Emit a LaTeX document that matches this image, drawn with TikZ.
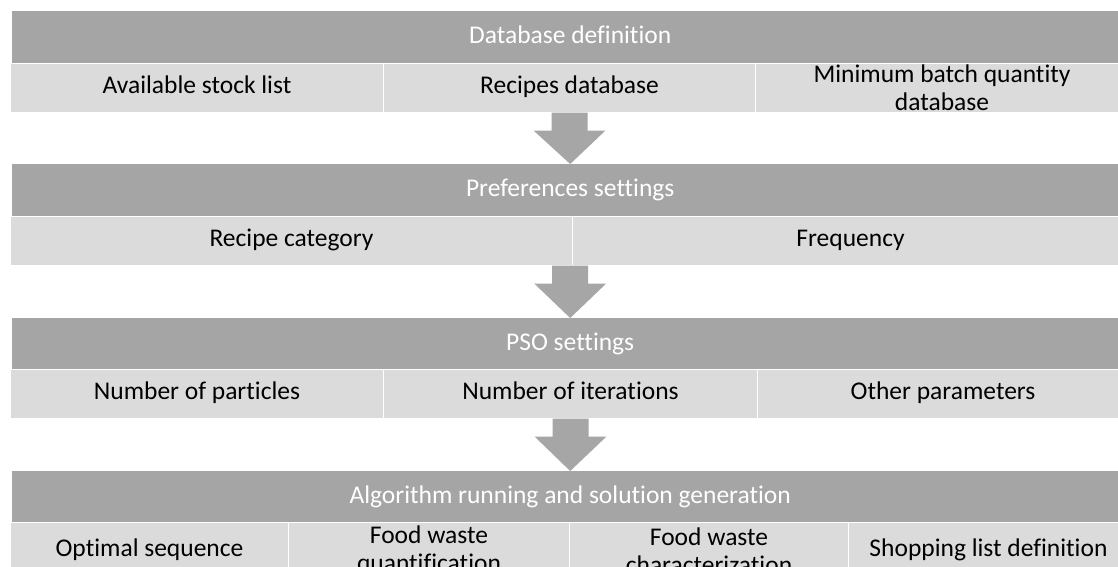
\documentclass[tikz,border=0pt]{standalone}
\usepackage{fontspec}
\setmainfont{Carlito}[Ligatures=NoCommon]
\usetikzlibrary{calc}
\definecolor{bargray}{HTML}{A5A5A5}
\definecolor{cellgray}{HTML}{DBDBDB}
\definecolor{arrowgray}{HTML}{A6A6A6}
\tikzset{
  bar/.style={fill=bargray, text=white, minimum width=1116pt, minimum height=52pt, inner sep=0pt, anchor=north west, text height=18pt, text depth=6pt},
  cell/.style={fill=cellgray, draw=white, line width=1pt, minimum height=48.5pt, inner sep=0pt, align=center, anchor=north west},
  oneline/.style={text height=18pt, text depth=6pt},
}
\newcommand{\flowarrow}[2]{%
  \fill[arrowgray] ($(#1)+(-18,0)$) -- ($(#1)+(18,0)$) -- ($(#1)+(18,18)$) -- ($(#1)+(36,18)$)
    -- (#2) -- ($(#1)+(-36,18)$) -- ($(#1)+(-18,18)$) -- cycle;}

\begin{document}
\begin{tikzpicture}[x=1pt,y=-1pt,font=\fontsize{25.5}{28}\selectfont]
\clip (0,0) rectangle (1118,566);
\fill[white] (0,0) rectangle (1118,566);
% database definition
\node[bar] (db) at (12,11) {Database definition};
\node[cell, oneline, minimum width=373pt] (stock) at (10,63) {Available stock list};
\node[cell, oneline, minimum width=372pt] (recipes) at (383,63) {Recipes database};
\node[cell, minimum width=373pt] (batch) at (755,63) {Minimum batch quantity\\database};
% preferences
\node[bar] (pref) at (12,164) {Preferences settings};
\node[cell, oneline, minimum width=562pt] (category) at (10,216) {Recipe category};
\node[cell, oneline, minimum width=556pt] (freq) at (572,216) {Frequency};
% pso
\node[bar] (pso) at (12,318) {PSO settings};
\node[cell, oneline, minimum width=373pt] (particles) at (10,369) {Number of particles};
\node[cell, oneline, minimum width=374pt] (iter) at (383,369) {Number of iterations};
\node[cell, oneline, minimum width=371pt] (other) at (757,369) {Other parameters};
% algorithm
\node[bar] (algo) at (12,471) {Algorithm running and solution generation};
\node[cell, oneline, minimum width=278pt, minimum height=56pt] (optseq) at (10,522) {Optimal sequence};
\node[cell, minimum width=281pt, minimum height=56pt] (quant) at (288,522) {Food waste\\quantification};
\node[cell, minimum width=279pt, minimum height=56pt] (charact) at (569,522) {Food waste\\characterization};
\node[cell, oneline, minimum width=280pt, minimum height=56pt] (shop) at (848,522) {Shopping list definition};
% arrows
\coordinate (a2) at (pref.center |- category.south);
\flowarrow{recipes.south}{pref.north}
\flowarrow{a2}{pso.north}
\flowarrow{iter.south}{algo.north}
\end{tikzpicture}
\end{document}
